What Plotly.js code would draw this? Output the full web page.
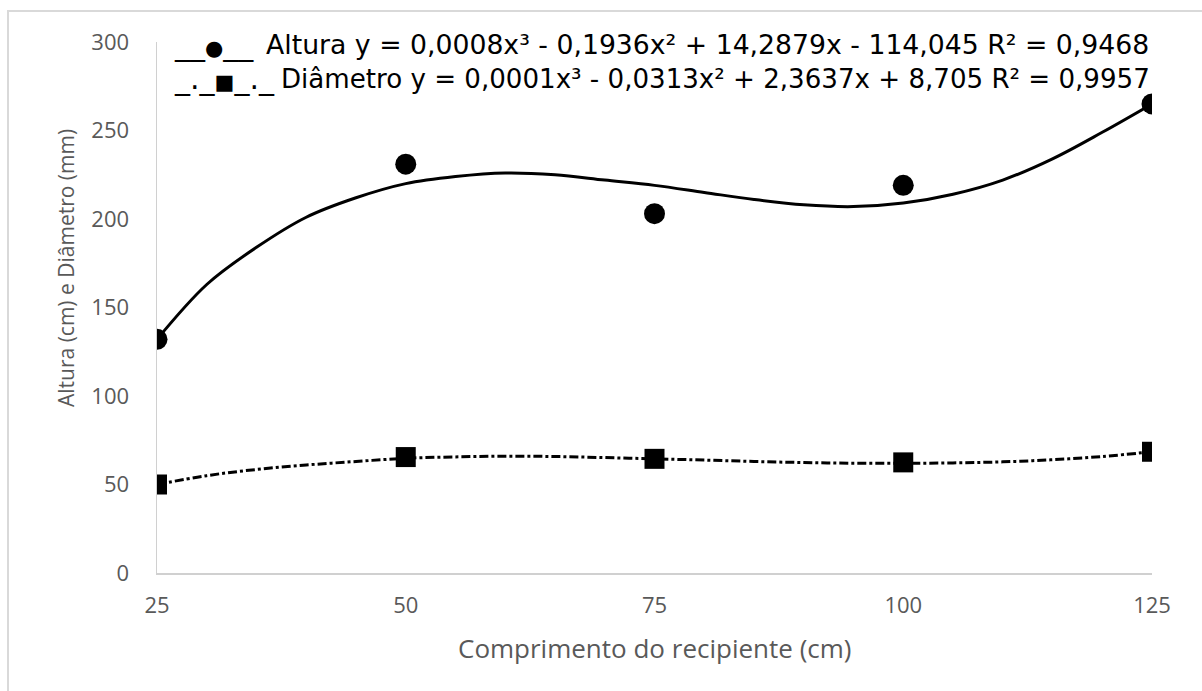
<!DOCTYPE html>
<html>
<head>
<meta charset="utf-8">
<script src="https://cdn.plot.ly/plotly-3.0.1.min.js"></script>
<style>
html,body{margin:0;padding:0;background:#fff;}
#chart{width:1202px;height:691px;}
</style>
</head>
<body>
<div id="chart"></div>
<script>
// Observed values
const comprimento = [25, 50, 75, 100, 125];
const altura = [132, 231, 203, 219, 265];
const diametro = [50, 65.5, 64.5, 62.5, 68.5];

// Trend curves
const trendX = [25, 30, 35, 40, 45, 50, 55, 60, 65, 70, 75, 80, 85, 90, 95, 100, 105, 110, 115, 120, 125];
const alturaTrend = [132, 163, 184, 201, 212, 220, 224, 226, 225, 222, 219, 215, 211, 208, 207, 209, 214, 222, 234, 249, 265];
const diametroTrend = [50, 55, 58.5, 61, 63, 64.8, 65.6, 66, 65.8, 65.2, 64.5, 63.8, 63, 62.4, 62, 62, 62.2, 62.8, 64, 65.8, 68.5];

const xTicks = [25, 50, 75, 100, 125];
const yTicks = [0, 50, 100, 150, 200, 250, 300];

const legendAltura = "Altura y = 0,0008x³ - 0,1936x² + 14,2879x - 114,045 R² = 0,9468";
const legendDiametro = "Diâmetro y = 0,0001x³ - 0,0313x² + 2,3637x + 8,705 R² = 0,9957";
const xTitle = "Comprimento do recipiente (cm)";
const yTitle = "Altura (cm) e Diâmetro (mm)";

const FONT = "Open Sans, Liberation Sans, sans-serif";
const LEGFONT = "DejaVu Sans, Open Sans, sans-serif";

const U = "<span style='font-size:30px'>__</span>";
const UD = "<span style='font-size:30px'>_.</span><span style='font-size:30px'>_</span>";
const legendSymAltura = U + "●" + U;
const legendSymDiametro = "<span style='font-size:30px'>_._</span>■<span style='font-size:30px'>_._</span>";

const traces = [
  {x: trendX, y: alturaTrend, mode: 'lines', line: {color: '#000', width: 3, shape: 'spline', smoothing: 1}, hoverinfo: 'skip'},
  {x: trendX, y: diametroTrend, mode: 'lines', line: {color: '#000', width: 3, dash: 'dashdot', shape: 'spline'}, hoverinfo: 'skip'},
  {x: comprimento, y: altura, mode: 'markers', marker: {symbol: 'circle', size: 21, color: '#000'}},
  {x: comprimento, y: diametro, mode: 'markers', marker: {symbol: 'square', size: 20, color: '#000'}}
];

const L = 157, T = 42, W = 995, H = 531;
function px(x){ return (x - L) / W; }
function py(y){ return (T + H - y) / H; }

const layout = {
  width: 1202, height: 691,
  margin: {l: L, r: 1202 - L - W, t: T, b: 691 - T - H},
  paper_bgcolor: '#fff', plot_bgcolor: '#fff',
  showlegend: false,
  font: {family: FONT, color: '#595959'},
  xaxis: {
    range: [25, 125], tickvals: xTicks, ticktext: xTicks.map(String),
    showgrid: false, zeroline: false, showline: true, linecolor: '#d0d0d0', linewidth: 1.5,
    ticks: '', tickfont: {size: 22, color: '#595959'}, ticklabelstandoff: 12
  },
  yaxis: {
    range: [0, 300], tickvals: yTicks, ticktext: yTicks.map(String),
    showgrid: false, zeroline: false, showline: true, linecolor: '#d0d0d0', linewidth: 1.5,
    ticks: '', tickfont: {size: 22, color: '#595959'}, ticklabelstandoff: 22
  },
  shapes: [
    {type: 'rect', xref: 'paper', yref: 'paper', x0: px(8), x1: px(1300), y0: py(800), y1: py(11),
     line: {color: '#d9d9d9', width: 2}, fillcolor: 'rgba(0,0,0,0)', layer: 'below'}
  ],
  annotations: [
    {xref: 'paper', yref: 'paper', x: px(172), y: py(44), xanchor: 'left', yanchor: 'middle',
     text: legendSymAltura, showarrow: false, font: {size: 21, color: '#000', family: LEGFONT}},
    {xref: 'paper', yref: 'paper', x: px(264), y: py(44), xanchor: 'left', yanchor: 'middle',
     text: legendAltura, showarrow: false, font: {size: 26.7, color: '#000', family: LEGFONT}},
    {xref: 'paper', yref: 'paper', x: px(172), y: py(79), xanchor: 'left', yanchor: 'middle',
     text: legendSymDiametro, showarrow: false, font: {size: 21, color: '#000', family: LEGFONT}},
    {xref: 'paper', yref: 'paper', x: px(279), y: py(79), xanchor: 'left', yanchor: 'middle',
     text: legendDiametro, showarrow: false, font: {size: 26.1, color: '#000', family: LEGFONT}},
    {xref: 'paper', yref: 'paper', x: px(655), y: py(648), xanchor: 'center', yanchor: 'middle',
     text: xTitle, showarrow: false, font: {size: 26, color: '#595959', family: FONT}},
    {xref: 'paper', yref: 'paper', x: px(66), y: py(268), xanchor: 'center', yanchor: 'middle', textangle: -90,
     text: yTitle, showarrow: false, font: {size: 21, color: '#595959', family: FONT}}
  ]
};

Plotly.newPlot('chart', traces, layout, {displayModeBar: false, staticPlot: true});
</script>
</body>
</html>
